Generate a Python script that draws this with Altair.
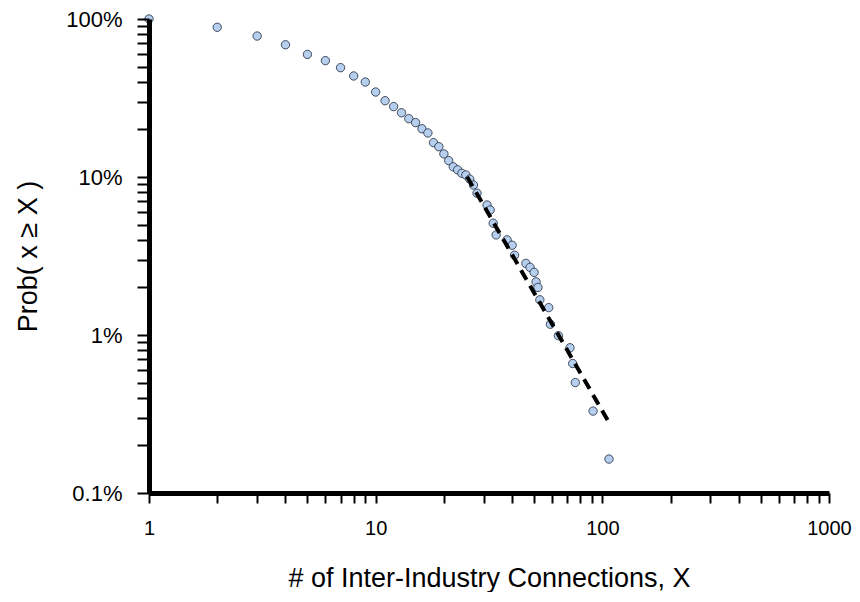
import altair as alt
import pandas as pd

conn_x = [1, 2, 3, 4, 5, 6, 7, 8, 9, 10, 11, 12, 13, 14, 15, 16, 17, 18, 19, 20,
          21, 22, 23, 24, 25, 26, 27, 28, 31, 32, 33, 34, 38, 40, 41, 46, 48, 50,
          51, 52, 53, 58, 59, 64, 72, 74, 76, 91, 107]
prob_y = [1.0, 0.886, 0.78, 0.687, 0.597, 0.545, 0.492, 0.436, 0.399, 0.345,
          0.304, 0.279, 0.255, 0.234, 0.221, 0.202, 0.19, 0.165, 0.1555, 0.140,
          0.127, 0.116, 0.111, 0.1055, 0.103, 0.097, 0.089, 0.079, 0.0665, 0.0618,
          0.051, 0.043, 0.040, 0.037, 0.032, 0.0284, 0.0268, 0.0249, 0.0217, 0.020,
          0.0167, 0.0149, 0.0117, 0.0099, 0.0083, 0.0066, 0.0050, 0.0033, 0.00164]

# Power-law fit line endpoints
fit_x = [25.3, 107.4]
fit_y = [0.1005, 0.00277]

# Axis ticks
x_major = [1, 10, 100, 1000]
x_major_labels = ["1", "10", "100", "1000"]
y_major = [1, 0.1, 0.01, 0.001]
y_major_labels = ["100%", "10%", "1%", "0.1%"]

x_ticks = [1, 2, 3, 4, 5, 6, 7, 8, 9, 10, 20, 30, 40, 50, 60, 70, 80, 90,
           100, 200, 300, 400, 500, 600, 700, 800, 900, 1000]
y_ticks = [0.001, 0.002, 0.003, 0.004, 0.005, 0.006, 0.007, 0.008, 0.009,
           0.01, 0.02, 0.03, 0.04, 0.05, 0.06, 0.07, 0.08, 0.09,
           0.1, 0.2, 0.3, 0.4, 0.5, 0.6, 0.7, 0.8, 0.9, 1]


def label_expr(vals, labels):
    expr = "''"
    for v, l in zip(reversed(vals), reversed(labels)):
        expr = f"(abs(datum.value - {v}) < {v}*1e-6) ? '{l}' : ({expr})"
    return expr


pts = pd.DataFrame({"x": conn_x, "y": prob_y})
fit = pd.DataFrame({"x": fit_x, "y": fit_y})

FONT = "Liberation Sans"

xscale = alt.Scale(type="log", domain=[1, 1000], nice=False)
yscale = alt.Scale(type="log", domain=[0.001, 1], nice=False)

xaxis = alt.Axis(
    values=x_ticks, labelExpr=label_expr(x_major, x_major_labels),
    title="# of Inter-Industry Connections, X",
    grid=False, domainColor="black", domainWidth=5, tickColor="black",
    tickSize=10, tickWidth=2, labelFontSize=20, labelFont=FONT,
    labelColor="black", labelPadding=15, labelOverlap=False, labelFlush=False,
    titleFont=FONT, titleFontSize=27, titleFontWeight="normal", titleColor="black",
    titleY=85, titleBaseline="middle", zindex=1,
)
yaxis = alt.Axis(
    values=y_ticks, labelExpr=label_expr(y_major, y_major_labels),
    title="Prob( x ≥ X )",
    grid=False, domainColor="black", domainWidth=5, tickColor="black",
    tickSize=12, tickWidth=2, labelFontSize=22, labelFont=FONT,
    labelColor="black", labelPadding=15, labelOverlap=False, labelFlush=False,
    titleFont=FONT, titleFontSize=27, titleFontWeight="normal", titleColor="black",
    titleX=-121, titleY=237, titleAngle=270, titleAlign="center",
    titleBaseline="middle", zindex=1,
)

points = alt.Chart(pts).mark_circle(
    size=70, color="#b6cfee", opacity=1, stroke="#1b2638", strokeWidth=0.8
).encode(
    x=alt.X("x:Q", scale=xscale, axis=xaxis),
    y=alt.Y("y:Q", scale=yscale, axis=yaxis),
)

line = alt.Chart(fit).mark_line(
    color="black", strokeWidth=4, strokeDash=[11, 7]
).encode(
    x=alt.X("x:Q", scale=xscale),
    y=alt.Y("y:Q", scale=yscale),
)

chart = alt.layer(points, line).properties(
    width=680, height=474,
    autosize=alt.AutoSizeParams(type="none"),
    padding={"left": 141, "top": 11, "right": 23, "bottom": 99},
).configure_view(stroke=None)

chart.save("out.html", embed_options={"renderer": "svg", "actions": False})
